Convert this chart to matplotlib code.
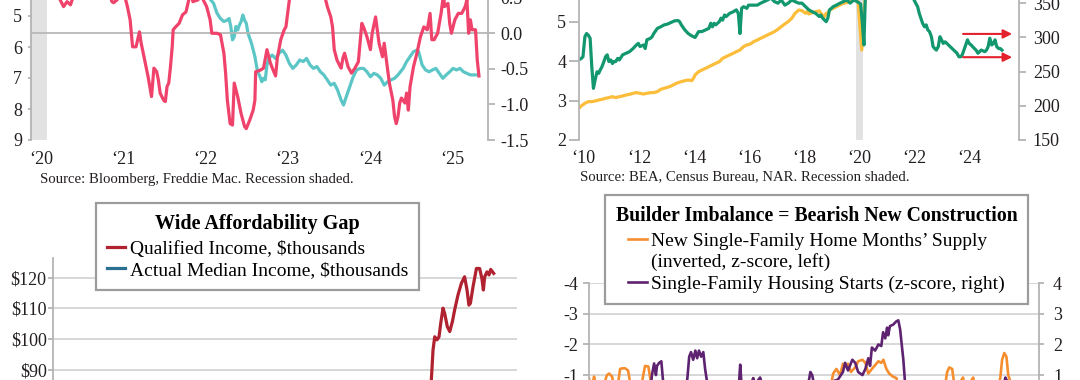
import matplotlib
matplotlib.use("Agg")
import matplotlib.pyplot as plt
from matplotlib.lines import Line2D

plt.rcParams["font.family"] = ["Liberation Serif", "DejaVu Serif"]

W, H = 1080, 380

# ---- panel 1: mortgage rate (left, inverted) vs Bloomberg index (right) ----
rate_x = [2020.0, 2020.2, 2020.4, 2020.6, 2020.8, 2021.0, 2021.2, 2021.4, 2021.6, 2021.8,
          2022.0, 2022.1, 2022.17,
          2022.21, 2022.245, 2022.287, 2022.329, 2022.371, 2022.413, 2022.434, 2022.455, 2022.476,
          2022.497, 2022.518, 2022.539, 2022.56, 2022.581, 2022.602, 2022.623, 2022.644, 2022.665,
          2022.707, 2022.749, 2022.77, 2022.783, 2022.812, 2022.833, 2022.854, 2022.875, 2022.896,
          2022.917, 2022.959, 2023.001, 2023.043, 2023.085, 2023.127, 2023.169, 2023.211, 2023.253,
          2023.295, 2023.337, 2023.379, 2023.421, 2023.463, 2023.505, 2023.547, 2023.589, 2023.631,
          2023.673, 2023.715, 2023.757, 2023.799, 2023.829, 2023.863, 2023.905, 2023.947, 2023.989,
          2024.031, 2024.073, 2024.115, 2024.157, 2024.199, 2024.241, 2024.283, 2024.325, 2024.367,
          2024.409, 2024.451, 2024.493, 2024.556, 2024.598, 2024.64, 2024.682, 2024.724, 2024.745,
          2024.787, 2024.829, 2024.871, 2024.913, 2024.955, 2024.997, 2025.039, 2025.081, 2025.123,
          2025.165, 2025.207, 2025.249, 2025.291, 2025.333, 2025.375, 2025.417, 2025.459]
rate_y = [3.65, 3.4, 3.2, 2.95, 2.8, 2.7, 3.1, 3.0, 2.85, 3.1,
          3.3, 3.9, 4.2,
          4.48, 4.59, 4.91, 5.08, 5.18, 5.13, 5.08, 5.34, 5.77,
          5.67, 5.34, 5.45, 5.29, 5.18, 4.97, 5.13, 5.24, 5.56,
          5.88, 6.31, 6.63, 6.80, 6.96, 7.12, 7.01, 7.06, 6.58,
          6.37, 6.26, 6.37, 6.20, 6.10, 6.26, 6.53, 6.69, 6.58,
          6.42, 6.47, 6.37, 6.58, 6.69, 6.63, 6.80, 6.90, 7.06,
          7.23, 7.17, 7.39, 7.71, 7.87, 7.60, 7.28, 6.96, 6.74,
          6.69, 6.69, 6.80, 6.96, 6.85, 6.90, 7.01, 7.23, 7.12,
          7.06, 7.01, 6.90, 6.69, 6.47, 6.31, 6.15, 6.10, 6.15,
          6.58, 6.74, 6.80, 6.74, 6.69, 6.85, 7.01, 6.90, 6.80,
          6.69, 6.74, 6.69, 6.80, 6.85, 6.90, 6.90, 6.90]

index_x = [2020.0, 2020.12, 2020.25,
           2020.375, 2020.417, 2020.459, 2020.501, 2020.522, 2020.62, 2020.78, 2020.92,
           2021.006, 2021.027, 2021.069, 2021.12, 2021.174, 2021.195, 2021.228, 2021.258, 2021.3,
           2021.342, 2021.363, 2021.405, 2021.447, 2021.489, 2021.518, 2021.552, 2021.573, 2021.594,
           2021.636, 2021.657, 2021.678, 2021.699, 2021.72, 2021.741, 2021.753, 2021.783, 2021.825,
           2021.867, 2021.909, 2021.943, 2021.97, 2021.993, 2022.056, 2022.09, 2022.119, 2022.161,
           2022.203, 2022.224, 2022.287, 2022.329, 2022.371, 2022.392, 2022.413, 2022.447, 2022.476,
           2022.497, 2022.539, 2022.581, 2022.623, 2022.644, 2022.686, 2022.728, 2022.749, 2022.758,
           2022.812, 2022.854, 2022.896, 2022.938, 2022.972, 2023.001, 2023.022, 2023.064, 2023.106,
           2023.127, 2023.148, 2023.169, 2023.28, 2023.42, 2023.56, 2023.611, 2023.632, 2023.653,
           2023.674, 2023.695, 2023.716, 2023.749, 2023.779, 2023.8, 2023.821, 2023.842, 2023.884,
           2023.926, 2023.968, 2024.01, 2024.052, 2024.073, 2024.115, 2024.157, 2024.178, 2024.22,
           2024.241, 2024.262, 2024.304, 2024.325, 2024.346, 2024.388, 2024.43, 2024.451, 2024.472,
           2024.493, 2024.514, 2024.535, 2024.577, 2024.598, 2024.619, 2024.64, 2024.682, 2024.724,
           2024.766, 2024.808, 2024.85, 2024.884, 2024.905, 2024.934, 2024.976, 2025.018, 2025.039,
           2025.05, 2025.06, 2025.102, 2025.123, 2025.144, 2025.186, 2025.228, 2025.27, 2025.312,
           2025.333, 2025.354, 2025.375, 2025.396, 2025.438, 2025.459, 2025.48]
index_y = [0.9, 1.1, 0.8,
           0.47, 0.375, 0.445, 0.40, 0.47, 0.9, 1.15, 0.8,
           0.445, 0.43, 0.47, 0.6, 0.47, 0.375, 0.19, -0.19, -0.19,
           0.02, -0.14, -0.375, -0.61, -0.89, -0.49, -0.54, -0.66, -0.84,
           -0.94, -0.96, -0.75, -0.70, -0.47, -0.19, 0.05, 0.09, 0.14,
           0.26, 0.30, 0.47, 0.6, 0.445, 0.47, 0.6, 0.47, 0.375,
           0.19, 0.0, 0.0, -0.02, -0.28, -0.56, -0.94, -1.27, -1.29,
           -0.70, -0.89, -1.13, -1.31, -1.34, -1.22, -1.08, -0.94, -0.54,
           -0.52, -0.49, -0.23, -0.42, -0.52, -0.60, -0.35, -0.09, 0.05,
           0.09, 0.28, 0.47, 0.9, 1.1, 0.7, 0.47, 0.375, 0.30,
           0.23, 0.09, -0.23, -0.375, -0.445, -0.49, -0.35, -0.28, -0.47,
           -0.56, -0.49, -0.40, 0.14, 0.09, -0.05, -0.23, 0.0, 0.23,
           0.05, -0.14, -0.33, -0.14, -0.33, -0.70, -0.94, -1.17, -1.27,
           -1.17, -0.98, -0.91, -0.98, -0.84, -1.08, -0.75, -0.47, -0.28,
           -0.05, 0.09, 0.05, 0.28, -0.09, -0.09, 0.0, 0.28, 0.47,
           0.55, 0.375, 0.42, 0.14, 0.0, 0.19, 0.28, 0.28, 0.375,
           0.47, 0.0, 0.19, 0.05, 0.05, -0.375, -0.60]

recession = (2020.0, 2020.22)
p1_years = [2020, 2021, 2022, 2023, 2024, 2025]
p1_labels = ["\u201820", "\u201821", "\u201822", "\u201823", "\u201824", "\u201825"]

# ---- panel 2: green ratio (left) vs yellow price (right) ----
ratio_x = [2009.97, 2010.06, 2010.12, 2010.19, 2010.25, 2010.31, 2010.38, 2010.44, 2010.5, 2010.56,
           2010.63, 2010.69, 2010.75, 2010.81, 2010.88, 2010.94, 2011.0, 2011.06, 2011.13, 2011.19,
           2011.25, 2011.31, 2011.38, 2011.44, 2011.56, 2011.69, 2011.81, 2011.94, 2012.06, 2012.13,
           2012.19, 2012.32, 2012.38, 2012.44, 2012.57, 2012.63, 2012.69, 2012.82, 2012.94, 2013.07,
           2013.19, 2013.32, 2013.44, 2013.57, 2013.63, 2013.69, 2013.82, 2013.94, 2014.07, 2014.19,
           2014.32, 2014.44, 2014.57, 2014.69, 2014.76, 2014.82, 2014.88, 2014.94, 2015.07, 2015.13,
           2015.19, 2015.26, 2015.32, 2015.44, 2015.57, 2015.69, 2015.76, 2015.82, 2015.88, 2015.95,
           2016.07, 2016.13, 2016.2, 2016.32, 2016.45, 2016.57, 2016.7, 2016.82, 2016.95, 2017.07,
           2017.2, 2017.32, 2017.45, 2017.57, 2017.7, 2017.82, 2017.95, 2018.07, 2018.2, 2018.32,
           2018.45, 2018.57, 2018.7, 2018.76, 2018.82, 2018.89, 2018.95, 2019.01, 2019.07, 2019.14,
           2019.2, 2019.32, 2019.45, 2019.57, 2019.7, 2019.82, 2019.95, 2020.07, 2020.2, 2020.26,
           2020.32, 2020.37, 2020.42, 2020.6, 2020.9, 2021.3, 2021.7, 2022.0,
           2022.14, 2022.27, 2022.33, 2022.45, 2022.52, 2022.58, 2022.64, 2022.7, 2022.77, 2022.83,
           2022.89, 2022.95, 2023.02, 2023.08, 2023.14, 2023.2, 2023.27, 2023.33, 2023.45, 2023.58,
           2023.7, 2023.77, 2023.83, 2023.89, 2023.95, 2024.08, 2024.14, 2024.21, 2024.33, 2024.39,
           2024.46, 2024.52, 2024.58, 2024.71, 2024.77, 2024.83, 2024.89, 2024.96, 2025.02, 2025.08,
           2025.14, 2025.21, 2025.27, 2025.33]
ratio_y = [4.03, 4.07, 4.11, 4.62, 4.70, 4.66, 4.58, 3.86, 3.31, 3.52,
           3.73, 3.69, 3.78, 3.86, 3.99, 4.11, 4.16, 3.99, 4.03, 3.94,
           3.99, 3.99, 4.07, 4.03, 4.16, 4.20, 4.24, 4.32, 4.41, 4.45,
           4.37, 4.41, 4.32, 4.54, 4.58, 4.62, 4.70, 4.83, 4.87, 4.92,
           4.94, 4.98, 5.02, 5.03, 5.00, 4.92, 4.79, 4.70, 4.64, 4.60,
           4.75, 4.75, 4.79, 4.83, 4.96, 4.87, 4.96, 4.92, 5.00, 5.09,
           5.04, 5.17, 5.13, 5.21, 5.25, 5.30, 5.21, 4.70, 5.34, 5.38,
           5.34, 5.42, 5.42, 5.42, 5.42, 5.47, 5.51, 5.55, 5.60, 5.51,
           5.47, 5.55, 5.42, 5.47, 5.55, 5.51, 5.47, 5.47, 5.38, 5.30,
           5.25, 5.21, 5.13, 5.17, 5.09, 5.04, 5.00, 5.09, 5.30, 5.34,
           5.38, 5.42, 5.47, 5.51, 5.55, 5.47, 5.55, 5.51, 5.45, 5.00,
           4.41, 5.60, 5.90, 6.20, 6.40, 6.60, 6.40, 5.90,
           5.55, 5.38, 5.21, 4.96, 4.87, 4.92, 4.79, 4.75, 4.62, 4.37,
           4.32, 4.28, 4.37, 4.62, 4.54, 4.45, 4.49, 4.45, 4.37, 4.28,
           4.20, 4.11, 4.11, 4.16, 4.28, 4.54, 4.45, 4.41, 4.32, 4.28,
           4.20, 4.24, 4.28, 4.24, 4.28, 4.37, 4.58, 4.41, 4.45, 4.54,
           4.37, 4.32, 4.32, 4.28]

price_x = [2009.97, 2010.06, 2010.19, 2010.31, 2010.44, 2010.56, 2010.69, 2010.81, 2010.94, 2011.06,
           2011.19, 2011.31, 2011.44, 2011.56, 2011.69, 2011.81, 2011.94, 2012.06, 2012.19, 2012.32,
           2012.44, 2012.57, 2012.69, 2012.82, 2012.94, 2013.07, 2013.19, 2013.32, 2013.44, 2013.57,
           2013.69, 2013.82, 2013.94, 2014.07, 2014.13, 2014.19, 2014.32, 2014.44, 2014.57, 2014.69,
           2014.82, 2014.94, 2015.07, 2015.19, 2015.32, 2015.44, 2015.57, 2015.69, 2015.82, 2015.95,
           2016.07, 2016.2, 2016.32, 2016.45, 2016.57, 2016.7, 2016.82, 2016.95, 2017.07, 2017.2,
           2017.32, 2017.45, 2017.57, 2017.7, 2017.82, 2017.89, 2017.95, 2018.07, 2018.2, 2018.26,
           2018.32, 2018.45, 2018.57, 2018.7, 2018.76, 2018.82, 2018.89, 2018.95, 2019.01, 2019.07,
           2019.2, 2019.32, 2019.45, 2019.57, 2019.7, 2019.82, 2019.95, 2020.11, 2020.24, 2020.36,
           2020.5, 2020.8, 2021.2, 2021.5, 2022.0, 2022.5, 2023.0, 2023.5, 2024.0, 2024.5, 2025.0, 2025.33]
price_y = [196.3, 199.8, 203.7, 206.1, 206.1, 207.1, 208.5, 209.5, 211.0, 212.0,
           213.4, 212.0, 213.4, 214.4, 215.9, 216.8, 218.3, 219.3, 218.3, 217.3,
           218.3, 219.3, 219.3, 220.7, 224.1, 225.6, 227.1, 229.0, 231.5, 233.9,
           235.4, 236.8, 237.8, 236.8, 240.2, 245.1, 250.0, 252.4, 254.9, 257.3,
           259.8, 262.2, 264.6, 269.5, 272.0, 274.4, 276.8, 279.3, 281.7, 286.6,
           289.0, 290.5, 293.9, 296.3, 298.8, 301.2, 303.7, 306.1, 308.5, 312.0,
           315.9, 319.8, 323.2, 328.0, 335.4, 337.8, 340.2, 339.3, 335.4, 337.8,
           334.4, 336.3, 337.8, 338.8, 335.4, 332.9, 330.5, 335.4, 335.4, 340.2,
           342.7, 345.1, 347.6, 350.0, 351.0, 352.4, 354.9, 352.0, 281.7, 355.0,
           365, 385, 390, 410, 400, 430, 405, 425, 410, 430, 415, 425]

recession2 = (2020.04, 2020.28)
p2_years = [2010, 2012, 2014, 2016, 2018, 2020, 2022, 2024]
p2_labels = ["\u201810", "\u201812", "\u201814", "\u201816", "\u201818", "\u201820", "\u201822", "\u201824"]
arrow_from, arrow_to = 2023.92, 2025.70
arrow_levels = [4.69, 4.10]

# ---- panel 3: Wide Affordability Gap ----
qual_x = [2002.0, 2006.0, 2009.0, 2012.0, 2016.0, 2019.0, 2020.5, 2021.5, 2022.0,
          2022.14, 2022.23, 2022.32, 2022.44, 2022.55, 2022.64, 2022.76, 2022.85, 2022.99, 2023.12,
          2023.26, 2023.38, 2023.56, 2023.74, 2023.91, 2024.04, 2024.14, 2024.22, 2024.36, 2024.54,
          2024.71, 2024.83, 2024.91, 2024.98, 2025.1, 2025.21, 2025.3, 2025.46]
qual_y = [55, 70, 52, 45, 58, 68, 65, 72, 80,
          86.8, 96.5, 100.8, 99.8, 100.8, 105.2, 110.1, 108.4, 104.1, 102.5,
          105.7, 109.5, 114.4, 118.2, 120.3, 116.0, 111.1, 111.7, 117.1, 123.0,
          123.0, 119.8, 116.0, 120.3, 121.9, 120.9, 122.7, 121.4]
actual_x = [2002, 2006, 2010, 2014, 2018, 2020, 2022, 2024, 2025.46]
actual_y = [43, 48, 49, 52, 62, 68, 72, 79, 81]

# ---- panel 4: Builder Imbalance ----
supply_x = [1963.0, 1963.3, 1963.7, 1964.0, 1964.5, 1965.0, 1965.4, 1965.5, 1965.77, 1966.2,
            1966.6, 1967.0, 1967.3, 1967.6, 1968.0, 1968.4, 1968.8, 1969.5, 1970.2, 1970.5,
            1970.75, 1971.2, 1971.4, 1971.7, 1975.0, 1980.0, 1982.0, 1985.0, 1985.7, 1986.2,
            1990.0, 1994.0, 1996.3, 1996.75, 1997.2, 1997.7, 1998.1, 1998.5, 1998.8, 1999.2,
            1999.8, 2000.2, 2000.8, 2001.2, 2001.6, 2002.1, 2003.0, 2003.4, 2003.7, 2004.1,
            2004.5, 2005.0, 2005.5, 2006.0, 2007.0, 2009.0, 2011.0, 2012.0, 2012.5, 2012.8,
            2013.2, 2013.6, 2014.7, 2015.0, 2016.1, 2016.5, 2018.0, 2019.0, 2019.85, 2020.1,
            2020.4, 2020.7, 2020.95, 2021.5, 2022.5, 2023.4]
supply_y = [-0.9, -0.5, -0.95, -0.6, -0.2, -0.6, -0.95, -1.0, -1.05, -0.95,
            -0.4, -0.7, -1.2, -1.22, -1.22, -1.15, -0.6, -0.3, -0.6, -1.0,
            -1.3, -1.28, -1.0, -0.5, 1.5, 1.2, 2.0, 0.0, -0.9, -0.5,
            0.8, 0.2, -0.5, -1.05, -1.2, -1.0, -1.37, -1.3, -1.37, -1.1,
            -1.25, -1.45, -1.5, -1.4, -1.05, -1.2, -1.45, -1.4, -1.5, -1.2,
            -1.05, -0.95, -0.9, -0.3, 0.8, 2.5, 0.8, -0.3, -1.1, -1.25,
            -1.2, -0.5, -0.92, -0.5, -0.92, -0.5, 0.0, -0.3, -0.9, -1.5,
            -1.72, -1.6, -1.0, -0.6, 0.8, 0.9]
starts_x = [1963.0, 1965.0, 1967.0, 1969.0, 1970.5, 1971.5, 1971.7, 1972.0, 1972.25, 1972.4,
            1972.7, 1973.0, 1973.2, 1974.0, 1975.0, 1976.0, 1976.6, 1976.85, 1977.1, 1977.4,
            1977.7, 1977.95, 1978.2, 1978.5, 1978.8, 1979.05, 1979.3, 1980.0, 1982.0, 1983.5,
            1983.75, 1983.9, 1984.05, 1985.0, 1985.7, 1985.95, 1986.65, 1987.5, 1990.0, 1991.0,
            1993.3, 1993.6, 1993.85, 1994.1, 1995.0, 1996.75, 1997.4, 1998.1, 1998.4, 1998.8,
            1999.4, 1999.8, 2000.2, 2000.8, 2001.2, 2001.6, 2001.85, 2002.1, 2002.55, 2003.0,
            2003.4, 2003.65, 2003.95, 2004.2, 2004.35, 2004.6, 2005.05, 2005.45, 2005.75, 2006.0,
            2006.45, 2006.7, 2007.5, 2009.0, 2012.0, 2015.0, 2018.0, 2019.5, 2020.25, 2020.55,
            2020.8, 2021.5, 2022.5, 2023.4]
starts_y = [-0.5, -0.3, -0.6, -0.1, -0.6, 0.5, 1.0, 1.38, 1.0, 1.3,
            1.4, 1.45, 0.9, -0.8, -1.2, 0.0, 0.9, 1.6, 1.75, 1.5,
            1.8, 1.55, 1.8, 1.6, 1.75, 1.2, 0.8, -0.8, -1.3, 0.4,
            0.8, 1.34, 0.8, 0.4, 0.9, 0.7, 0.92, 0.3, -0.4, -1.2,
            0.7, 1.1, 1.0, 0.7, 0.3, 0.8, 0.85, 1.1, 1.4, 1.15,
            1.5, 1.4, 1.1, 1.0, 1.2, 1.55, 1.3, 1.9, 1.8, 2.0,
            1.95, 2.4, 2.2, 2.55, 2.3, 2.6, 2.65, 2.75, 2.79, 2.5,
            1.5, 0.7, -0.5, -1.6, -1.3, -0.5, 0.0, 0.3, 0.6, 0.92,
            0.8, 0.7, 0.2, -0.2]

# colours
RED1, TEAL1 = "#f0436b", "#5cc6c6"
GREEN2, YELLOW2, ARROW = "#12976f", "#fbbd3a", "#e4222b"
RED3, BLUE3 = "#b0222f", "#2a7090"
ORANGE4, PURPLE4 = "#f68e2f", "#5e2370"
SPINE, GRID, SHADE, INK = "#b4b4b4", "#d4d4d4", "#e2e2e2", "#231f20"
TICK_SHIFT = 0.15


def px_axes(fig, x0, x1, ytop, ybot):
    return fig.add_axes([x0 / W, 1 - ybot / H, (x1 - x0) / W, (ybot - ytop) / H])


def span(pa, va, pb, vb, ytop, ybot):
    # value range for an axis whose ticks va, vb sit at pixel rows pa, pb
    k = (vb - va) / (pb - pa)
    return va + (ybot - pa) * k, va + (ytop - pa) * k


def clean(ax, keep):
    for s in ["left", "right", "top", "bottom"]:
        ax.spines[s].set_visible(s in keep)
        ax.spines[s].set_color(SPINE)
        ax.spines[s].set_linewidth(1.3)
    ax.tick_params(colors=SPINE, labelcolor=INK, labelsize=13, width=1.3)


def legend_box(ax, handles, labels, title, corner, title_size):
    leg = ax.legend(handles, labels, title=title, loc="upper left",
                    bbox_to_anchor=(corner[0] / W, 1 - corner[1] / H), bbox_transform=fig.transFigure,
                    borderaxespad=0, frameon=True, fancybox=False, framealpha=1,
                    edgecolor="#9c9c9c", prop={"size": 14},
                    title_fontproperties={"size": title_size, "weight": "bold"},
                    handlelength=0.95, handletextpad=0.25, labelspacing=0.2, borderpad=0.55)
    leg.get_frame().set_linewidth(1.6)
    leg._legend_box.sep = 4.5
    return leg


fig = plt.figure(figsize=(W / 100, H / 100), dpi=100)

# panel 1
ax1 = px_axes(fig, 31, 488, -80, 140)
ax1r = ax1.twinx()
ax1.axvspan(*recession, color=SHADE, lw=0)
ax1.plot(rate_x, rate_y, color=TEAL1, lw=2.3)
ax1r.axhline(0, color="#b8b8b8", lw=1.3)
ax1r.plot(index_x, index_y, color=RED1, lw=2.3)
ax1.set_xlim(2020.02, 2025.59)
ax1.set_ylim(*span(16, 5, 140, 9, -80, 140))
ax1r.set_ylim(*span(33.3, 0, 140, -1.5, -80, 140))
ax1.set_yticks([5, 6, 7, 8, 9], labels=["5", "6", "7", "8", "9"])
ax1r.set_yticks([-1.5, -1.0, -0.5, 0.0, 0.5, 1.0], labels=["-1.5", "-1.0", "-0.5", "0.0", "0.5", "1.0"])
ax1.set_xticks([y + TICK_SHIFT for y in p1_years], labels=p1_labels)
clean(ax1, ["left"])
clean(ax1r, ["right"])
ax1.tick_params(axis="y", length=2.2, pad=4.3)
ax1r.tick_params(axis="y", length=5, pad=3.6)
ax1.tick_params(axis="x", length=0, pad=8)
fig.text(39.5 / W, 1 - 179 / H, "Source: Bloomberg, Freddie Mac. Recession shaded.",
         fontsize=10.6, color=INK, va="center")

# panel 2
ax2 = px_axes(fig, 579, 1019, -80, 140)
ax2r = ax2.twinx()
ax2.set_zorder(ax2r.get_zorder() + 1)
ax2.patch.set_visible(False)
ax2r.axvspan(*recession2, color=SHADE, lw=0)
ax2r.plot(price_x, price_y, color=YELLOW2, lw=2.3)
ax2.plot(ratio_x, ratio_y, color=GREEN2, lw=2.3)
for lvl in arrow_levels:
    ax2.annotate("", xy=(arrow_to, lvl), xytext=(arrow_from, lvl),
                 arrowprops=dict(arrowstyle="-|>", color=ARROW, lw=1.5,
                                 mutation_scale=13, shrinkA=0, shrinkB=0))
ax2.set_xlim(2009.976, 2025.95)
ax2.set_ylim(*span(21.7, 5, 140, 2, -80, 140))
ax2r.set_ylim(*span(3.3, 350, 140, 150, -80, 140))
ax2.set_yticks([2, 3, 4, 5], labels=["2", "3", "4", "5"])
ax2r.set_yticks([150, 200, 250, 300, 350], labels=["150", "200", "250", "300", "350"])
ax2.set_xticks([y + TICK_SHIFT for y in p2_years], labels=p2_labels)
clean(ax2, ["left"])
clean(ax2r, ["right"])
ax2.tick_params(axis="y", length=7, pad=2.2)
ax2r.tick_params(axis="y", length=5, pad=5)
ax2.tick_params(axis="x", length=0, pad=7)
fig.text(580 / W, 1 - 177 / H, "Source: BEA, Census Bureau, NAR. Recession shaded.",
         fontsize=10.6, color=INK, va="center")

# panel 3
ax3 = px_axes(fig, 53, 517, 258, 480)
l_q, = ax3.plot(qual_x, qual_y, color=RED3, lw=2.3, zorder=3)
l_a, = ax3.plot(actual_x, actual_y, color=BLUE3, lw=2.3, zorder=3)
ax3.set_xlim(2002.0, 2026.7)
ax3.set_ylim(*span(277.7, 120, 370, 90, 258, 480))
ticks3 = [60, 70, 80, 90, 100, 110, 120]
ax3.set_yticks(ticks3, labels=[r"\$%d" % t for t in ticks3])
ax3.set_xticks([])
ax3.grid(axis="y", color=GRID, lw=1.3)
clean(ax3, ["left"])
ax3.tick_params(axis="y", length=3.6, pad=1)
legend_box(ax3, [l_q, l_a], [r"Qualified Income, \$thousands", r"Actual Median Income, \$thousands"],
           "Wide Affordability Gap", (96, 203), 14.5)

# panel 4
ax4 = px_axes(fig, 589, 1039, 283.3, 528)
ax4r = ax4.twinx()
l_s, = ax4.plot(supply_x, supply_y, color=ORANGE4, lw=1.9)
l_h, = ax4r.plot(starts_x, starts_y, color=PURPLE4, lw=1.9)
ax4.set_xlim(1963.0, 2025.2)
ax4.set_ylim(4, -4)
ax4r.set_ylim(-4, 4)
lv = [-4, -3, -2, -1, 0, 1, 2, 3, 4]
ax4.set_yticks(lv, labels=[str(v) for v in lv])
ax4r.set_yticks(lv, labels=[str(v) for v in lv])
ax4.set_xticks([])
ax4.grid(axis="y", color=GRID, lw=1.3)
clean(ax4, ["left"])
clean(ax4r, ["right"])
ax4.tick_params(axis="y", length=4.3, pad=3.6)
ax4r.tick_params(axis="y", length=3.6, pad=6.5)
blank = Line2D([], [], color="none")
legend_box(ax4r, [l_s, blank, l_h],
           ["New Single-Family Home Months\u2019 Supply", "(inverted, z-score, left)",
            "Single-Family Housing Starts (z-score, right)"],
           "Builder Imbalance = Bearish New Construction", (605, 195), 14.2)

fig.savefig("out.png", dpi=100)
